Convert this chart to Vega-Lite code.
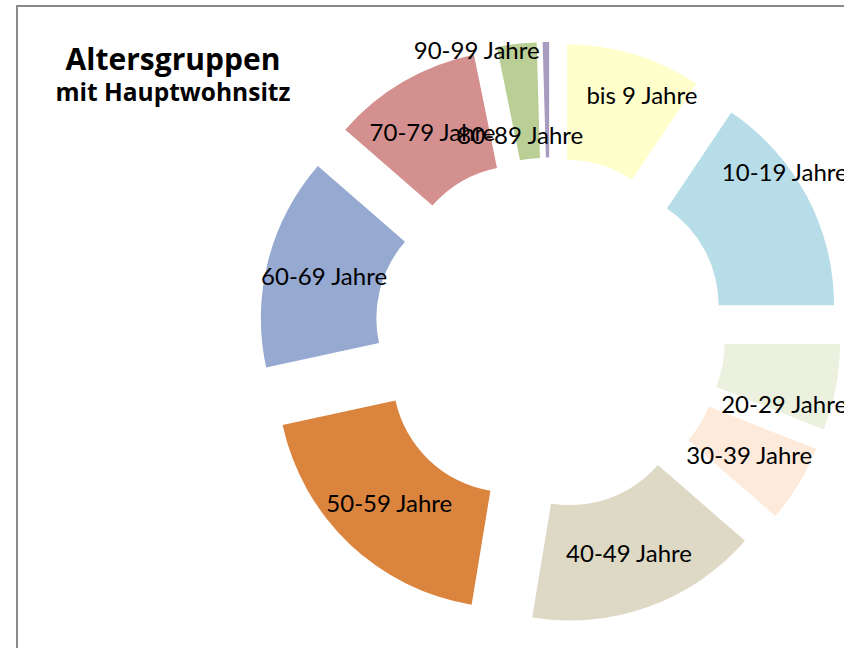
{
  "$schema": "https://vega.github.io/schema/vega-lite/v6.json",
  "width": 830,
  "height": 645,
  "autosize": "none",
  "padding": {"left": 17, "top": 6, "right": -3, "bottom": -3},
  "background": "white",
  "config": {
    "view": {"stroke": "#8a8a8a", "strokeWidth": 2},
    "text": {"font": "Lato", "fontSize": 24, "color": "#000000"}
  },
  "title": {
    "text": "Altersgruppen",
    "subtitle": "mit Hauptwohnsitz",
    "anchor": "start",
    "frame": "group",
    "align": "center",
    "offset": 0,
    "dx": 156,
    "dy": 99,
    "font": "Open Sans",
    "fontSize": 30,
    "fontWeight": "bold",
    "color": "#000000",
    "subtitleFont": "Open Sans",
    "subtitleFontSize": 24.5,
    "subtitleFontWeight": "bold",
    "subtitleColor": "#000000",
    "subtitlePadding": 6
  },
  "data": {
    "values": [
      {"label": "bis 9 Jahre", "value": 9.4},
      {"label": "10-19 Jahre", "value": 15.6},
      {"label": "20-29 Jahre", "value": 6.0},
      {"label": "30-39 Jahre", "value": 5.4},
      {"label": "40-49 Jahre", "value": 16.2},
      {"label": "50-59 Jahre", "value": 19.0},
      {"label": "60-69 Jahre", "value": 14.8},
      {"label": "70-79 Jahre", "value": 10.4},
      {"label": "80-89 Jahre", "value": 2.75},
      {"label": "90-99 Jahre", "value": 0.45}
    ]
  },
  "transform": [
    {"joinaggregate": [{"op": "sum", "field": "value", "as": "total"}]},
    {"window": [{"op": "sum", "field": "value", "as": "cum"}], "frame": [null, 0]},
    {"calculate": "datum.cum - datum.value", "as": "t0"},
    {"calculate": "datum.cum - datum.value / 2", "as": "tmid"},
    {"calculate": "sin(2 * PI * datum.tmid / datum.total)", "as": "ex"},
    {"calculate": "cos(2 * PI * datum.tmid / datum.total)", "as": "ey"}
  ],
  "encoding": {
    "x": {"field": "ex", "type": "quantitative", "stack": null, "axis": null, "scale": {"domain": [-9.0339, 5.0339], "nice": false, "zero": false}},
    "y": {"field": "ey", "type": "quantitative", "stack": null, "axis": null, "scale": {"domain": [-5.3898, 5.5424], "nice": false, "zero": false}}
  },
  "layer": [
    {
      "mark": {"type": "arc", "innerRadius": 116.5, "outerRadius": 232},
      "encoding": {
        "theta": {"field": "t0", "type": "quantitative", "stack": null, "scale": {"domain": [0, 100], "range": [0, 6.283185307]}},
        "theta2": {"field": "cum"},
        "color": {
          "field": "label", "type": "nominal", "legend": null,
          "scale": {
            "domain": ["bis 9 Jahre", "10-19 Jahre", "20-29 Jahre", "30-39 Jahre", "40-49 Jahre", "50-59 Jahre", "60-69 Jahre", "70-79 Jahre", "80-89 Jahre", "90-99 Jahre"],
            "range": ["#FFFFCC", "#B7DDE8", "#EBF1DE", "#FDEADA", "#DDD9C4", "#DB843D", "#95A9D1", "#D3908E", "#BACF96", "#A89BC0"]
          }
        }
      }
    },
    {
      "transform": [{"filter": {"field": "label", "oneOf": ["30-39 Jahre", "40-49 Jahre", "50-59 Jahre", "60-69 Jahre", "70-79 Jahre"]}}],
      "mark": {"type": "text", "radius": 174.25, "align": "center", "baseline": "middle", "dy": 3},
      "encoding": {
        "theta": {"field": "tmid", "type": "quantitative", "stack": null},
        "text": {"field": "label"}
      }
    },
    {
      "transform": [{"filter": {"field": "label", "equal": "bis 9 Jahre"}}],
      "mark": {"type": "text", "radius": 174.25, "align": "center", "baseline": "middle", "dx": 24, "dy": -13},
      "encoding": {
        "theta": {"field": "tmid", "type": "quantitative", "stack": null},
        "text": {"field": "label"}
      }
    },
    {
      "transform": [{"filter": {"field": "label", "equal": "10-19 Jahre"}}],
      "mark": {"type": "text", "radius": 174.25, "align": "center", "baseline": "middle", "dx": 29, "dy": -49},
      "encoding": {
        "theta": {"field": "tmid", "type": "quantitative", "stack": null},
        "text": {"field": "label"}
      }
    },
    {
      "transform": [{"filter": {"field": "label", "equal": "20-29 Jahre"}}],
      "mark": {"type": "text", "radius": 174.25, "align": "center", "baseline": "middle", "dx": 5, "dy": 29},
      "encoding": {
        "theta": {"field": "tmid", "type": "quantitative", "stack": null},
        "text": {"field": "label"}
      }
    },
    {
      "transform": [{"filter": {"field": "label", "equal": "80-89 Jahre"}}],
      "mark": {"type": "text", "radius": 174.25, "align": "center", "baseline": "middle", "dx": -3, "dy": 36},
      "encoding": {
        "theta": {"field": "tmid", "type": "quantitative", "stack": null},
        "text": {"field": "label"}
      }
    },
    {
      "transform": [{"filter": {"field": "label", "equal": "90-99 Jahre"}}],
      "mark": {"type": "text", "radius": 174.25, "align": "center", "baseline": "middle", "dx": -70, "dy": -48},
      "encoding": {
        "theta": {"field": "tmid", "type": "quantitative", "stack": null},
        "text": {"field": "label"}
      }
    }
  ]
}
